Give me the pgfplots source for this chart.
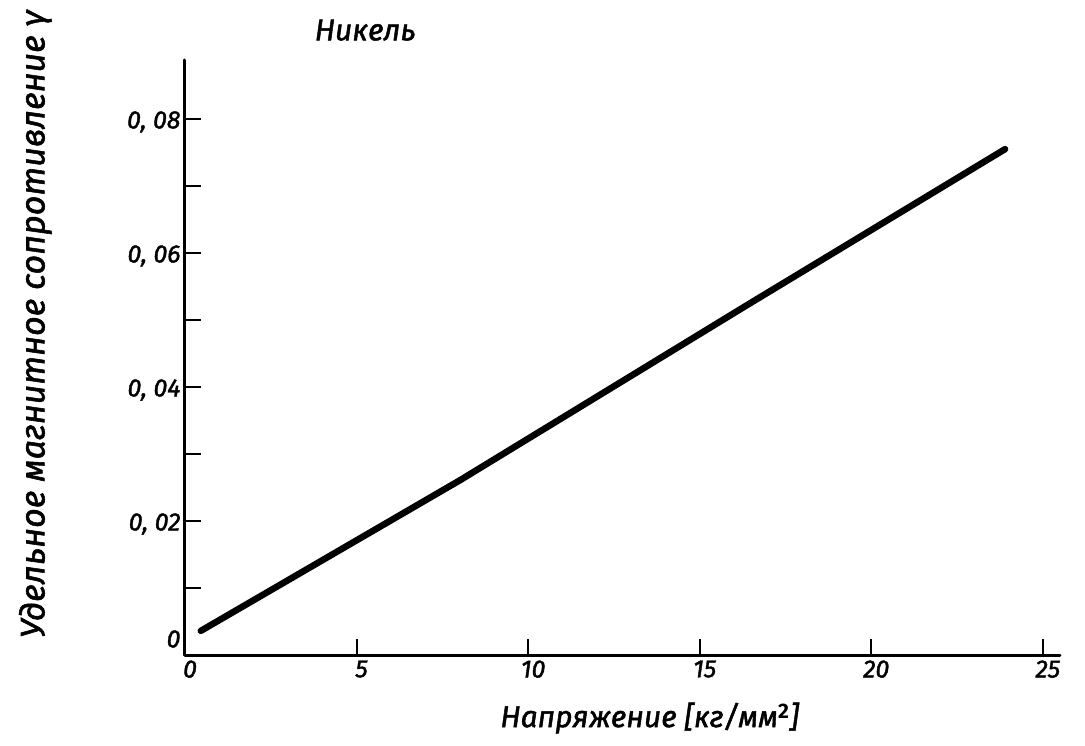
\documentclass[border=0pt]{standalone}
\usepackage{fontspec}
\setmainfont{Fira Sans}[ItalicFeatures={FakeBold=1.6}]
\usepackage{pgfplots}
\pgfplotsset{compat=1.18}
\begin{document}
\begin{tikzpicture}
\begin{axis}[
  scale only axis, width=875pt, height=595pt,
  xmin=0, xmax=25.5, ymin=0, ymax=0.0888,
  scaled y ticks=false, scaled x ticks=false,
  axis lines*=left,
  axis line style={line width=3pt, line cap=round},
  xtick={0,5,10,15,20,25}, xticklabels={0,5,10,15,20,25},
  ytick={0.02,0.04,0.06,0.08},
  yticklabels={{0, 02},{0, 04},{0, 06},{0, 08}},
  minor ytick={0.01,0.03,0.05,0.07},
  extra y ticks={0}, extra y tick labels={0},
  extra y tick style={major tick length=0pt, yticklabel style={yshift=19pt}},
  tick align=inside,
  major tick length=16pt, minor tick length=16pt,
  tick style={line width=2pt, black},
  ticklabel style={font=\fontsize{25}{25}\selectfont\itshape},
  yticklabel style={anchor=east, xshift=-1pt, yshift=-3pt},
  xticklabel style={anchor=north, xshift=5pt, yshift=-2pt},
  title={Никель},
  title style={at={(axis description cs:0.206,1.04)}, anchor=center, font=\fontsize{30}{30}\selectfont\itshape},
  xlabel={Напряжение [кг/мм$^{\mathbf 2}$]},
  xlabel style={at={(axis description cs:0.531,-0.106)}, anchor=center, font=\fontsize{30}{30}\selectfont\itshape},
  ylabel={Удельное магнитное сопротивление γ},
  ylabel style={at={(axis description cs:-0.171,0.556)}, anchor=center, font=\fontsize{34}{34}\selectfont\itshape},
]
\addplot[black, line width=6.5pt, line cap=round, line join=round] coordinates {
  (0.46,0.0036) (8.02,0.0261) (16.47,0.0525) (23.9,0.0755)
};
\end{axis}
\pgfresetboundingbox
\path ([xshift=-185pt,yshift=-90pt]current axis.south west) rectangle ([xshift=900pt,yshift=655pt]current axis.south west);
\end{tikzpicture}
\end{document}
